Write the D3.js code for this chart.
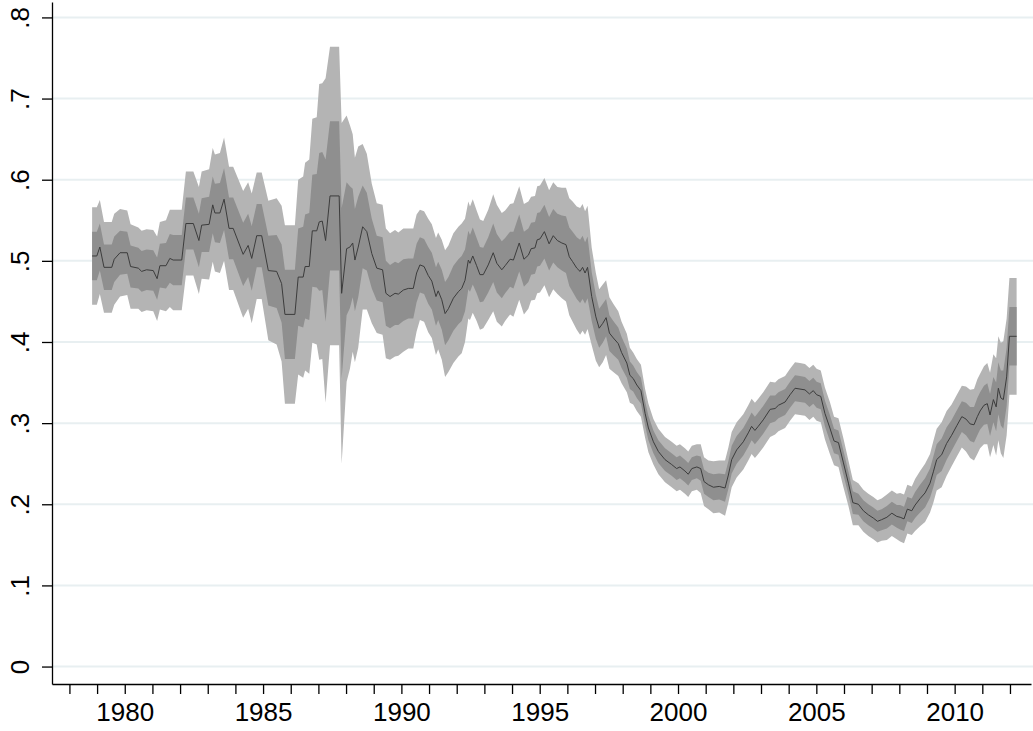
<!DOCTYPE html>
<html>
<head>
<meta charset="utf-8">
<script src="https://cdn.jsdelivr.net/npm/d3@7"></script>
<style>
  body { margin: 0; background: #fff; }
  svg { display: block; }
</style>
</head>
<body>
<div id="vis"></div>
<script>
// decimal year of each observation
const t = [
  1978.82,1978.99,1979.10,1979.25,1979.53,1979.62,1979.83,1980.09,1980.21,1980.49,
  1980.61,1980.79,1981.03,1981.17,1981.27,1981.49,1981.63,1981.75,1982.06,1982.21,
  1982.48,1982.68,1982.78,1983.05,1983.18,1983.26,1983.44,1983.59,1983.77,1983.92,
  1984.28,1984.46,1984.59,1984.77,1984.95,1985.19,1985.49,1985.67,1985.79,1986.15,
  1986.27,1986.45,1986.52,1986.67,1986.78,1986.94,1987.03,1987.14,1987.26,1987.42,
  1987.75,1987.84,1988.02,1988.14,1988.24,1988.32,1988.44,1988.60,1988.75,1988.93,
  1989.11,1989.32,1989.44,1989.59,1989.77,1989.89,1990.07,1990.25,1990.43,1990.55,
  1990.67,1990.82,1990.97,1991.10,1991.25,1991.33,1991.46,1991.58,1991.70,1991.88,
  1992.06,1992.18,1992.30,1992.42,1992.48,1992.58,1992.72,1992.84,1992.96,1993.14,
  1993.32,1993.45,1993.63,1993.75,1993.93,1994.05,1994.26,1994.43,1994.59,1994.69,
  1994.83,1994.91,1995.01,1995.17,1995.34,1995.49,1995.64,1995.80,1995.95,1996.07,
  1996.19,1996.34,1996.46,1996.55,1996.64,1996.73,1996.88,1997.03,1997.15,1997.28,
  1997.40,1997.52,1997.66,1997.84,1997.96,1998.15,1998.26,1998.38,1998.51,1998.66,
  1998.81,1998.93,1999.11,1999.29,1999.53,1999.77,1999.95,2000.07,2000.25,2000.37,
  2000.50,2000.68,2000.82,2000.94,2001.10,2001.28,2001.49,2001.70,2001.82,2001.94,
  2002.12,2002.36,2002.54,2002.66,2002.78,2002.90,2003.08,2003.33,2003.51,2003.63,
  2003.87,2004.05,2004.23,2004.41,2004.59,2004.75,2004.89,2005.01,2005.16,2005.31,
  2005.49,2005.64,2005.80,2005.98,2006.16,2006.32,2006.52,2006.70,2006.88,2007.06,
  2007.21,2007.36,2007.55,2007.73,2007.91,2008.03,2008.17,2008.29,2008.45,2008.57,
  2008.75,2008.93,2009.11,2009.23,2009.35,2009.53,2009.71,2009.89,2010.08,2010.26,
  2010.41,2010.56,2010.70,2010.82,2010.92,2011.06,2011.18,2011.28,2011.40,2011.50,
  2011.58,2011.67,2011.76,2011.88,2011.98,2012.24
];

// point estimate (the dark line)
const est = [
  .506,.506,.517,.492,.492,.502,.510,.510,.493,.491,
  .487,.489,.488,.478,.494,.494,.503,.501,.501,.546,
  .546,.525,.544,.545,.569,.559,.559,.576,.540,.540,
  .508,.519,.503,.531,.531,.488,.487,.472,.434,.434,
  .480,.480,.493,.493,.537,.537,.548,.549,.525,.580,
  .580,.460,.515,.517,.522,.501,.517,.542,.536,.509,
  .491,.489,.460,.456,.460,.459,.464,.466,.466,.485,
  .495,.493,.482,.475,.456,.463,.452,.435,.441,.454,
  .462,.466,.476,.501,.497,.506,.494,.483,.483,.495,
  .510,.497,.489,.494,.502,.501,.522,.502,.507,.515,
  .516,.526,.527,.536,.521,.531,.525,.522,.520,.505,
  .499,.491,.487,.492,.485,.492,.456,.431,.417,.423,
  .430,.411,.405,.398,.387,.374,.359,.355,.347,.340,
  .312,.294,.277,.265,.255,.249,.244,.246,.241,.237,
  .244,.246,.244,.228,.224,.221,.222,.220,.236,.255,
  .267,.277,.288,.296,.291,.296,.304,.317,.318,.322,
  .326,.335,.343,.342,.341,.336,.340,.335,.333,.312,
  .294,.278,.276,.251,.226,.202,.200,.192,.187,.183,
  .179,.181,.184,.189,.185,.184,.182,.194,.192,.199,
  .207,.214,.226,.240,.255,.261,.275,.285,.297,.308,
  .305,.299,.298,.308,.315,.322,.324,.310,.329,.320,
  .343,.331,.329,.357,.407,.407
];

// standard error: inner band = est +/- 1 se, outer band = est +/- 2 se
const se = [
  .030,.030,.029,.028,.028,.028,.027,.026,.026,.025,
  .025,.025,.025,.026,.027,.028,.030,.031,.031,.032,
  .032,.033,.033,.034,.035,.036,.037,.038,.038,.038,
  .039,.039,.040,.039,.039,.043,.045,.048,.055,.055,
  .060,.062,.064,.066,.069,.070,.085,.085,.100,.092,
  .092,.105,.082,.075,.067,.063,.062,.051,.048,.043,
  .040,.040,.040,.039,.039,.038,.038,.037,.037,.036,
  .034,.034,.035,.035,.036,.036,.037,.039,.039,.040,
  .040,.040,.038,.036,.035,.035,.034,.034,.033,.034,
  .036,.036,.035,.034,.034,.035,.035,.034,.033,.032,
  .032,.033,.033,.033,.033,.033,.033,.034,.035,.036,
  .037,.038,.039,.039,.038,.038,.030,.027,.024,.024,
  .023,.022,.021,.020,.019,.018,.017,.016,.016,.016,
  .015,.015,.014,.014,.014,.014,.014,.014,.014,.014,
  .014,.014,.015,.015,.015,.016,.016,.017,.017,.017,
  .017,.017,.017,.017,.017,.017,.017,.017,.016,.016,
  .016,.016,.016,.016,.016,.016,.016,.016,.016,.016,
  .016,.015,.015,.015,.014,.014,.013,.013,.013,.013,
  .013,.013,.014,.014,.014,.015,.015,.015,.015,.016,
  .017,.018,.018,.019,.019,.020,.020,.019,.019,.019,
  .020,.021,.022,.023,.023,.024,.025,.026,.028,.030,
  .032,.034,.036,.036,.036,.036
];

const yTicks = [0, .1, .2, .3, .4, .5, .6, .7, .8];
const xTicks = d3.range(1978, 2013);
const xLabels = [1980, 1985, 1990, 1995, 2000, 2005, 2010];

const width = 1033, height = 731;
const font = "Arial, 'Liberation Sans', sans-serif";

const data = t.map((d, i) => ({ t: d, est: est[i], se: se[i] }));

const svg = d3.select("#vis").append("svg")
  .attr("width", width)
  .attr("height", height)
  .attr("viewBox", [0, 0, width, height]);

const x = d3.scaleLinear([1977.37, 2012.76], [52, 1031]);
const y = d3.scaleLinear([-0.0215, 0.819], [684, 2]);

// grid lines first, under the bands
svg.append("g")
  .selectAll("line")
  .data(yTicks)
  .join("line")
  .attr("x1", x.range()[0])
  .attr("x2", width)
  .attr("y1", d => y(d))
  .attr("y2", d => y(d))
  .attr("stroke", "#e8eff1")
  .attr("stroke-width", 2);

const band = k => d3.area()
  .x(d => x(d.t))
  .y0(d => y(d.est - k * d.se))
  .y1(d => y(d.est + k * d.se));

svg.append("path")
  .datum(data)
  .attr("fill", "#b4b4b4")
  .attr("d", band(2));

svg.append("path")
  .datum(data)
  .attr("fill", "#8f8f8f")
  .attr("d", band(1));

svg.append("path")
  .datum(data)
  .attr("fill", "none")
  .attr("stroke", "#3c3c3c")
  .attr("stroke-width", 1)
  .attr("stroke-linejoin", "round")
  .attr("d", d3.line().x(d => x(d.t)).y(d => y(d.est)));

// x axis
const gx = svg.append("g")
  .attr("transform", `translate(0,${y.range()[0]})`)
  .call(d3.axisBottom(x)
    .tickValues(xTicks)
    .tickSize(10)
    .tickSizeOuter(0)
    .tickPadding(9)
    .tickFormat(d => xLabels.includes(d) ? d : ""));

gx.selectAll("text")
  .attr("fill", "#000")
  .style("font", `26px ${font}`);

// y axis, labels turned on their side
const yfmt = d => d === 0 ? "0" : d3.format(".1f")(d).replace(/^0/, "");
const gy = svg.append("g")
  .attr("transform", `translate(${x.range()[0]},0)`)
  .call(d3.axisLeft(y)
    .tickValues(yTicks)
    .tickSize(10)
    .tickSizeOuter(0)
    .tickFormat(yfmt));

gy.selectAll("text")
  .attr("x", 0)
  .attr("y", 0)
  .attr("dy", null)
  .attr("text-anchor", "middle")
  .attr("transform", "translate(-23,0) rotate(-90)")
  .attr("fill", "#000")
  .style("font", `26px ${font}`);

svg.selectAll(".domain, .tick line")
  .attr("stroke", "#000")
  .attr("stroke-width", 1.3);
</script>
</body>
</html>
